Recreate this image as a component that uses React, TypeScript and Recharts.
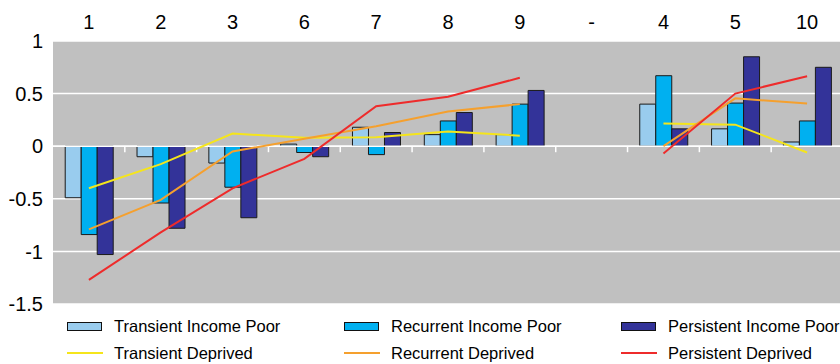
import React from "react";
import {
  ComposedChart,
  Bar,
  Line,
  XAxis,
  YAxis,
  CartesianGrid,
  ReferenceLine,
  Legend,
} from "recharts";

const groups = ["1", "2", "3", "6", "7", "8", "9", "-", "4", "5", "10"];

const transientPoor = [-0.49, -0.1, -0.16, 0.02, 0.18, 0.11, 0.11, null, 0.4, 0.165, 0.04];
const recurrentPoor = [-0.84, -0.54, -0.39, -0.06, -0.08, 0.24, 0.4, null, 0.67, 0.41, 0.24];
const persistentPoor = [-1.03, -0.78, -0.68, -0.1, 0.13, 0.32, 0.53, null, 0.165, 0.85, 0.75];

const transientDeprived = [-0.4, -0.17, 0.12, 0.08, 0.085, 0.14, 0.1, null, 0.215, 0.205, -0.06];
const recurrentDeprived = [-0.79, -0.51, -0.05, 0.07, 0.19, 0.33, 0.4, null, 0.0, 0.455, 0.405];
const persistentDeprived = [-1.27, -0.82, -0.4, -0.12, 0.38, 0.47, 0.65, null, -0.07, 0.5, 0.665];

const yTicks = [-1.5, -1, -0.5, 0, 0.5, 1];

// legend reads row by row: the three bar series, then the three lines
const legendOrder = [
  "Transient Income Poor",
  "Recurrent Income Poor",
  "Persistent Income Poor",
  "Transient Deprived",
  "Recurrent Deprived",
  "Persistent Deprived",
];

const rows = groups.map((g, i) => ({
  group: g,
  tPoor: transientPoor[i],
  rPoor: recurrentPoor[i],
  pPoor: persistentPoor[i],
  tDep: transientDeprived[i],
  rDep: recurrentDeprived[i],
  pDep: persistentDeprived[i],
}));

const FONT = "'Liberation Sans', Arial, sans-serif";

// zero line with small downward ticks at each category boundary
const ZeroAxis = (props: any) => {
  const { x1, x2, y1 } = props;
  const n = groups.length;
  const step = (x2 - x1) / n;
  const marks = [];
  for (let i = 1; i < n; i++) {
    const x = x1 + i * step;
    marks.push(<line key={i} x1={x} x2={x} y1={y1} y2={y1 + 6} stroke="#ffffff" strokeWidth={1.5} />);
  }
  return (
    <g>
      <line x1={x1} x2={x2} y1={y1} y2={y1} stroke="#ffffff" strokeWidth={1.5} />
      {marks}
    </g>
  );
};

const LegendGrid = ({ payload }: any) => {
  const items = [...(payload || [])].sort(
    (a: any, b: any) => legendOrder.indexOf(a.value) - legendOrder.indexOf(b.value)
  );
  return (
    <div
      style={{
        display: "grid",
        gridTemplateColumns: "277px 277px 230px",
        rowGap: 9,
        fontFamily: FONT,
        fontSize: 16.5,
        lineHeight: "18px",
        color: "#000",
      }}
    >
      {items.map((p: any) => (
        <div key={p.value} style={{ display: "flex", alignItems: "center", height: 18 }}>
          {p.type === "rect" ? (
            <span
              style={{
                display: "inline-block",
                width: 33,
                height: 7,
                background: p.color,
                border: "1px solid #111",
                marginRight: 12,
              }}
            />
          ) : (
            <span
              style={{
                display: "inline-block",
                width: 36,
                height: 1.5,
                background: p.color,
                marginRight: 11,
              }}
            />
          )}
          <span>{p.value}</span>
        </div>
      ))}
    </div>
  );
};

export default function App() {
  return (
    <div style={{ position: "absolute", left: 0, top: 0, width: 840, height: 364, overflow: "hidden", background: "#fff" }}>
      <ComposedChart
        width={846}
        height={364}
        data={rows}
        margin={{ top: 0, right: 3, bottom: 60, left: 0 }}
        barCategoryGap="17%"
        barGap={0}
      >
        <CartesianGrid vertical={false} fill="#c0c0c0" stroke="#ffffff" strokeWidth={1.5} />
        <XAxis
          dataKey="group"
          orientation="top"
          height={41}
          axisLine={false}
          tickLine={false}
          tickSize={0}
          tickMargin={12}
          interval={0}
          tick={{ fill: "#000", fontSize: 20, fontFamily: FONT }}
        />
        <YAxis
          width={53}
          domain={[-1.5, 1]}
          ticks={yTicks}
          interval={0}
          axisLine={false}
          tickLine={false}
          tickSize={0}
          tickMargin={10}
          tick={{ fill: "#000", fontSize: 20, fontFamily: FONT }}
        />
        <Bar dataKey="tPoor" name="Transient Income Poor" fill="#99ccee" stroke="#1a1a1a" strokeWidth={1} legendType="rect" isAnimationActive={false} />
        <Bar dataKey="rPoor" name="Recurrent Income Poor" fill="#00b0f0" stroke="#1a1a1a" strokeWidth={1} legendType="rect" isAnimationActive={false} />
        <Bar dataKey="pPoor" name="Persistent Income Poor" fill="#333399" stroke="#1a1a1a" strokeWidth={1} legendType="rect" isAnimationActive={false} />
        <ReferenceLine y={0} shape={ZeroAxis} />
        <Line dataKey="tDep" name="Transient Deprived" stroke="#f5e51b" strokeWidth={2} dot={false} legendType="line" isAnimationActive={false} />
        <Line dataKey="rDep" name="Recurrent Deprived" stroke="#f5a02e" strokeWidth={2} dot={false} legendType="line" isAnimationActive={false} />
        <Line dataKey="pDep" name="Persistent Deprived" stroke="#ee2b2b" strokeWidth={2} dot={false} legendType="line" isAnimationActive={false} />
        <Legend
          layout="horizontal"
          verticalAlign="middle"
          align="center"
          content={<LegendGrid />}
          wrapperStyle={{ left: 67, top: 317, width: 780 }}
        />
      </ComposedChart>
    </div>
  );
}
